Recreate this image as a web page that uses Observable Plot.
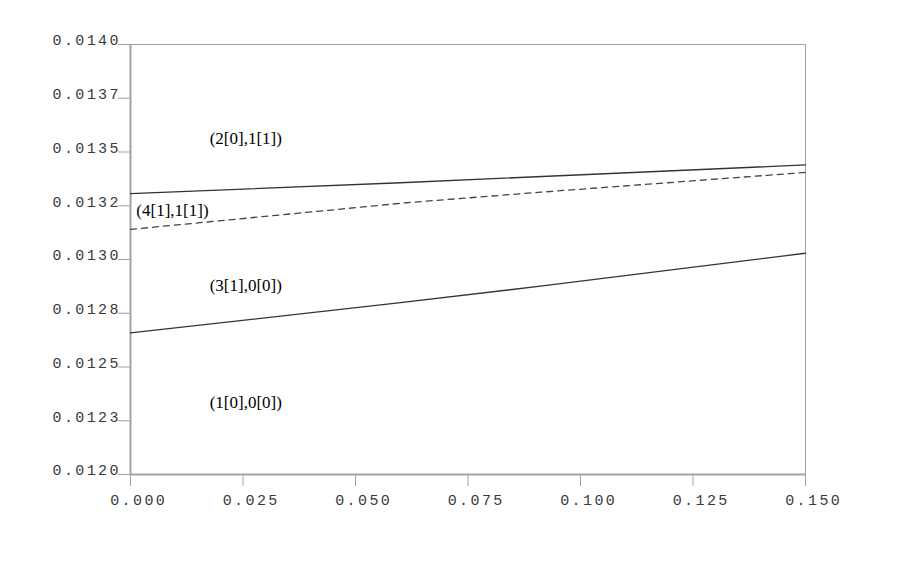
<!DOCTYPE html>
<html><head><meta charset="utf-8">
<script src="https://cdn.jsdelivr.net/npm/d3@7"></script>
<script src="https://cdn.jsdelivr.net/npm/@observablehq/plot@0.6"></script>
<style>
body{margin:0;background:#fff;}
g[aria-label="y-axis tick label"] text, g[aria-label="x-axis tick label"] text {letter-spacing:2.4px;}
</style>
</head><body><div id="chart"></div>
<script>
const xTicks = [0, 0.025, 0.05, 0.075, 0.1, 0.125, 0.15];
const xTickLabels = ["0.000", "0.025", "0.050", "0.075", "0.100", "0.125", "0.150"];
const yTicks = [0.012, 0.01225, 0.0125, 0.01275, 0.013, 0.01325, 0.0135, 0.01375, 0.014];
const yTickLabels = ["0.0120", "0.0123", "0.0125", "0.0128", "0.0130", "0.0132", "0.0135", "0.0137", "0.0140"];

// upper solid boundary
const upperX = [0, 0.06, 0.15];
const upperY = [0.013306, 0.013357, 0.013440];
// dashed boundary
const dashX = [0, 0.0613, 0.0911, 0.15];
const dashY = [0.013140, 0.013264, 0.013313, 0.013405];
// lower solid boundary
const lowerX = [0, 0.06, 0.0911, 0.15];
const lowerY = [0.012659, 0.012799, 0.012876, 0.013029];

// region labels
const labelText = ["(2[0],1[1])", "(4[1],1[1])", "(3[1],0[0])", "(1[0],0[0])"];
const labelX = [0.0176, 0.0013, 0.0176, 0.0176];
const labelY = [0.013563, 0.01323, 0.012879, 0.012335];

const toRows = (xs, ys) => xs.map((x, i) => ({x, y: ys[i]}));
const labels = labelText.map((t, i) => ({text: t, x: labelX[i], y: labelY[i]}));

const axisGray = "#a3a3a3";
const textGray = "#3a3a3a";

const chart = Plot.plot({
  width: 919,
  height: 569,
  marginLeft: 130,
  marginRight: 114,
  marginTop: 44,
  marginBottom: 95,
  style: {fontFamily: "Liberation Mono", fontSize: "15px", background: "white", color: textGray},
  x: {domain: [0, 0.15]},
  y: {domain: [0.012, 0.014]},
  marks: [
    Plot.ruleY([0.014], {stroke: axisGray, strokeWidth: 1}),
    Plot.ruleX([0.15], {stroke: axisGray, strokeWidth: 1}),
    Plot.ruleX([0], {stroke: axisGray, strokeWidth: 2}),
    Plot.ruleY([0.012], {stroke: axisGray, strokeWidth: 2}),
    Plot.axisY({ticks: yTicks, tickSize: 12, tickFormat: () => "", stroke: axisGray, label: null}),
    Plot.axisY({ticks: yTicks, tickSize: 0, tickPadding: 12, dx: 2.4, dy: -4, fill: textGray,
      tickFormat: d => yTickLabels[yTicks.indexOf(d)], label: null}),
    Plot.axisX({ticks: xTicks, tickSize: 12, tickFormat: () => "", stroke: axisGray, label: null}),
    Plot.axisX({ticks: xTicks, tickSize: 0, tickPadding: 20, dx: 8.2, fill: textGray,
      tickFormat: d => xTickLabels[xTicks.indexOf(d)], label: null}),
    Plot.line(toRows(upperX, upperY), {x: "x", y: "y", stroke: "#333", strokeWidth: 1.3}),
    Plot.line(toRows(dashX, dashY), {x: "x", y: "y", stroke: "#444", strokeWidth: 1.3, strokeDasharray: "6,5"}),
    Plot.line(toRows(lowerX, lowerY), {x: "x", y: "y", stroke: "#333", strokeWidth: 1.3}),
    Plot.text(labels, {x: "x", y: "y", text: "text", textAnchor: "start",
      fontFamily: "Liberation Serif", fontSize: 17, fill: "#000"})
  ]
});
document.getElementById("chart").appendChild(chart);
</script>
</body></html>
